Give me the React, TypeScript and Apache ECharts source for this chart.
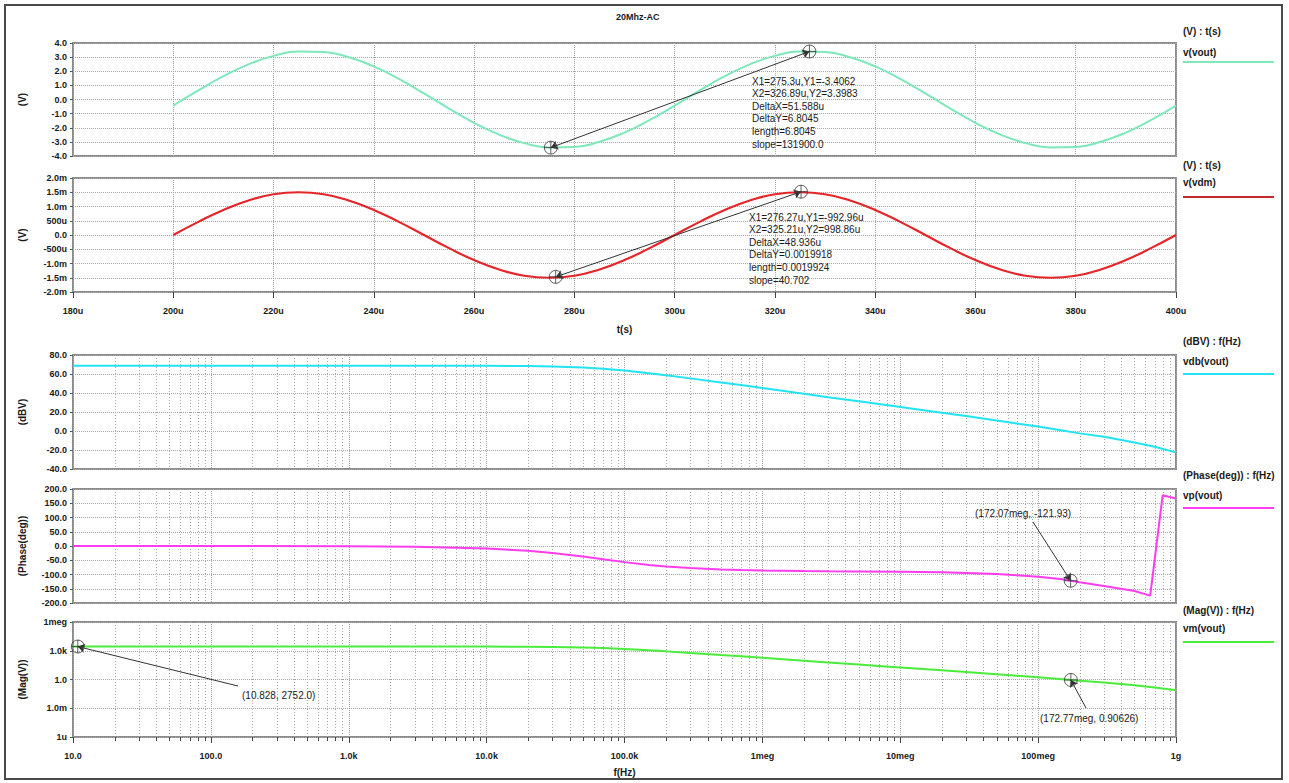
import React, { useEffect, useRef } from "react";
import * as echarts from "echarts";

// ---------- data ----------
const timeMicro = [
  200, 205, 210, 215, 220, 225, 230, 235, 240, 245, 250, 255, 260, 265, 270, 275, 280, 285, 290, 295,
  300, 305, 310, 315, 320, 325, 330, 335, 340, 345, 350, 355, 360, 365, 370, 375, 380, 385, 390, 395, 400,
];
const voutVolts = [
  -0.43, 0.64, 1.65, 2.49, 3.09, 3.39, 3.36, 2.99, 2.34, 1.46, 0.43, -0.64, -1.65, -2.49, -3.09, -3.39,
  -3.36, -2.99, -2.34, -1.46, -0.43, 0.64, 1.65, 2.49, 3.09, 3.39, 3.36, 2.99, 2.34, 1.46, 0.43, -0.64,
  -1.65, -2.49, -3.09, -3.39, -3.36, -2.99, -2.34, -1.46, -0.43,
];
const vdmMilliVolts = [
  0.0, 0.46, 0.88, 1.21, 1.43, 1.5, 1.43, 1.21, 0.88, 0.46, 0.0, -0.46, -0.88, -1.21, -1.43, -1.5,
  -1.43, -1.21, -0.88, -0.46, 0.0, 0.46, 0.88, 1.21, 1.43, 1.5, 1.43, 1.21, 0.88, 0.46, 0.0, -0.46,
  -0.88, -1.21, -1.43, -1.5, -1.43, -1.21, -0.88, -0.46, 0.0,
];

const freqHz = [
  10, 100, 1e3, 1e4, 2e4, 3e4, 5e4, 7e4, 1e5, 1.5e5, 2e5, 3e5, 5e5, 7e5, 1e6, 2e6, 3e6, 5e6, 7e6, 1e7,
  2e7, 3e7, 5e7, 7e7, 1e8, 1.5e8, 2e8, 3e8, 5e8, 7e8, 1e9,
];
const vdbValues = [
  68.8, 68.8, 68.8, 68.7, 68.4, 68.0, 66.9, 65.5, 63.6, 60.9, 58.7, 55.4, 51.1, 48.3, 45.2, 39.2, 35.6,
  31.2, 28.3, 25.2, 19.2, 15.7, 11.1, 8.0, 4.7, 0.6, -2.5, -6.0, -12.0, -16.5, -22.5,
];
const vmValues = [
  2752, 2752, 2750, 2720, 2630, 2510, 2210, 1880, 1510, 1110, 861, 589, 359, 260, 182, 91.2, 60.3, 36.3,
  26.0, 18.2, 9.12, 6.1, 3.59, 2.51, 1.72, 1.07, 0.75, 0.5, 0.25, 0.15, 0.075,
];
const phaseFreqHz = [
  10, 100, 1e3, 3e3, 1e4, 2e4, 3e4, 5e4, 7e4, 1e5, 1.5e5, 2e5, 3e5, 5e5, 7e5, 1e6, 2e6, 3e6, 5e6, 1e7,
  2e7, 3e7, 5e7, 7e7, 1e8, 1.5e8, 2e8, 3e8, 5e8, 6.5e8, 8e8, 1e9,
];
const vpDegrees = [
  0, 0, -0.9, -2.6, -8.6, -16.9, -24.4, -37.1, -46.7, -56.6, -66.3, -71.7, -77.6, -82.5, -84.6, -86.2,
  -88.1, -89.0, -89.6, -90.5, -92.5, -94.5, -98.5, -102.5, -108.0, -116.5, -127.0, -140.0, -158.0,
  -174.0, 178.0, 167.0,
];

// cursors
const voutCursors = [
  [275.3, -3.4062],
  [326.89, 3.3983],
];
const vdmCursors = [
  [276.27, -1.47],
  [325.21, 1.52],
];
const vpCursor = [172.07e6, -121.93];
const vmCursors = [
  [10.828, 2752.0],
  [172.77e6, 0.90626],
];

const voutNotes = [
  "X1=275.3u,Y1=-3.4062",
  "X2=326.89u,Y2=3.3983",
  "DeltaX=51.588u",
  "DeltaY=6.8045",
  "length=6.8045",
  "slope=131900.0",
];
const vdmNotes = [
  "X1=276.27u,Y1=-992.96u",
  "X2=325.21u,Y2=998.86u",
  "DeltaX=48.936u",
  "DeltaY=0.0019918",
  "length=0.0019924",
  "slope=40.702",
];
const vpNote = "(172.07meg, -121.93)";
const vmNotes = ["(10.828, 2752.0)", "(172.77meg, 0.90626)"];

const seriesNames = ["v(vout)", "v(vdm)", "vdb(vout)", "vp(vout)", "vm(vout)"];
const axisUnits = ["(V) : t(s)", "(V) : t(s)", "(dBV) : f(Hz)", "(Phase(deg)) : f(Hz)", "(Mag(V)) : f(Hz)"];
const yNames = ["(V)", "(V)", "(dBV)", "(Phase(deg))", "(Mag(V))"];
const freqTickLabels = ["10.0", "100.0", "1.0k", "10.0k", "100.0k", "1meg", "10meg", "100meg", "1g"];
const magTickLabels: Record<string, string> = { "-6": "1u", "-3": "1.0m", "0": "1.0", "3": "1.0k", "6": "1meg" };
const minorMultipliers = [2, 3, 4, 5, 6, 7, 8, 9];
const decades = [10, 100, 1e3, 1e4, 1e5, 1e6, 1e7, 1e8];

// ---------- styling ----------
const FONT = "Liberation Sans, Arial, sans-serif";
const TXT = "#1a1a1a";
const colors = ["#7fe8bb", "#e52528", "#22e3f2", "#ff3cef", "#4aec3c"];
const legendColors = ["#7fe8bb", "#c1272d", "#22e3f2", "#ff3cef", "#4aec3c"];

const minorFreqs: number[] = [];
decades.forEach((d) => minorMultipliers.forEach((m) => minorFreqs.push(m * d)));

const gridLine = { show: true, lineStyle: { color: "#a6a6a6", type: "dotted" as const, width: 1 } };
const labelStyle = { fontFamily: FONT, fontSize: 9, fontWeight: "bold" as const, color: TXT };

function fmtMilli(v: number) {
  const r = Math.round(v * 10) / 10;
  if (r === 0) return "0.0";
  if (Math.abs(r) < 1) return `${Math.round(r * 1000)}u`;
  return `${r.toFixed(1)}m`;
}

function makeYAxis(i: number, extra: any) {
  return {
    gridIndex: i,
    name: yNames[i],
    nameLocation: "middle",
    nameGap: 46,
    nameTextStyle: { ...labelStyle, fontSize: 10 },
    axisLine: { show: false, onZero: false },
    axisTick: { show: true, length: 3, lineStyle: { color: "#555" } },
    axisLabel: { ...labelStyle, margin: 6 },
    splitLine: gridLine,
    ...extra,
  };
}

function timeXAxis(i: number, showLabels: boolean) {
  return {
    gridIndex: i,
    type: "value",
    min: 180,
    max: 400,
    interval: 20,
    axisLine: { show: false, onZero: false },
    axisTick: { show: showLabels, length: 6, lineStyle: { color: "#444" } },
    axisLabel: { show: showLabels, ...labelStyle, margin: 14, formatter: (v: number) => `${v}u` },
    splitLine: gridLine,
    name: showLabels ? "t(s)" : "",
    nameLocation: "middle",
    nameGap: 32,
    nameTextStyle: { ...labelStyle, fontSize: 10 },
  };
}

function freqXAxis(i: number, showLabels: boolean) {
  return {
    gridIndex: i,
    type: "log",
    logBase: 10,
    min: 10,
    max: 1e9,
    splitNumber: 8,
    axisLine: { show: false, onZero: false },
    axisTick: { show: showLabels, length: 6, lineStyle: { color: "#444" } },
    axisLabel: {
      show: showLabels,
      ...labelStyle,
      margin: 14,
      formatter: (v: number) => freqTickLabels[Math.round(Math.log10(v)) - 1] ?? "",
    },
    splitLine: gridLine,
    name: showLabels ? "f(Hz)" : "",
    nameLocation: "middle",
    nameGap: 30,
    nameTextStyle: { ...labelStyle, fontSize: 10 },
  };
}

function minorGridSeries(i: number, yRef: number, withTicks: boolean) {
  return {
    type: "custom",
    xAxisIndex: i,
    yAxisIndex: i,
    silent: true,
    clip: false,
    z: 1,
    data: minorFreqs.map((f) => [f, yRef]),
    renderItem: (params: any, api: any) => {
      const cs = params.coordSys;
      const x = Math.round(api.coord([api.value(0), api.value(1)])[0]) + 0.5;
      const children: any[] = [
        {
          type: "line",
          shape: { x1: x, y1: cs.y, x2: x, y2: cs.y + cs.height },
          style: { stroke: "#a6a6a6", lineWidth: 1, lineDash: [1, 2] },
        },
      ];
      if (withTicks) {
        children.push({
          type: "line",
          shape: { x1: x, y1: cs.y + cs.height, x2: x, y2: cs.y + cs.height + 4 },
          style: { stroke: "#444", lineWidth: 1 },
        });
      }
      return { type: "group", children };
    },
  };
}

const cursorSymbol = "path://M7,0A7,7,0,1,1,-7,0A7,7,0,1,1,7,0ZM-7,0L7,0M0,-7L0,7";

function cursorSeries(i: number, pts: number[][]) {
  return {
    type: "scatter",
    xAxisIndex: i,
    yAxisIndex: i,
    data: pts,
    symbol: cursorSymbol,
    symbolSize: 13,
    z: 10,
    silent: true,
    itemStyle: { color: "rgba(0,0,0,0)", borderColor: "#3a3a3a", borderWidth: 1 },
  };
}

function arrowSeries(i: number, lines: any[], symbols: string[]) {
  return {
    type: "line",
    xAxisIndex: i,
    yAxisIndex: i,
    data: [],
    silent: true,
    z: 9,
    markLine: {
      silent: true,
      symbol: symbols,
      symbolSize: 7,
      label: { show: false },
      lineStyle: { color: "#333", width: 1, type: "solid" },
      data: lines,
    },
  };
}

function notesGraphic(lines: string[], x: number, y0: number, step: number) {
  return lines.map((t, k) => ({
    type: "text",
    left: x,
    top: y0 + k * step,
    style: { text: t, fontFamily: FONT, fontSize: 10, fill: TXT },
    z: 20,
  }));
}

const legendTops = [
  [26, 47, 62],
  [160, 177, 197],
  [336, 356, 374],
  [470, 490, 508],
  [605, 623, 642],
];

function legendGraphic() {
  const out: any[] = [];
  legendTops.forEach(([h, n, l], i) => {
    out.push({
      type: "text",
      left: 1183,
      top: h,
      style: { text: axisUnits[i], fontFamily: FONT, fontSize: 10, fontWeight: "bold", fill: TXT },
    });
    out.push({
      type: "text",
      left: 1183,
      top: n,
      style: { text: seriesNames[i], fontFamily: FONT, fontSize: 10, fontWeight: "bold", fill: TXT },
    });
    out.push({
      type: "line",
      shape: { x1: 1183, y1: l, x2: 1274, y2: l },
      style: { stroke: legendColors[i], lineWidth: 2 },
    });
  });
  return out;
}

export default function App() {
  const ref = useRef<HTMLDivElement>(null);

  useEffect(() => {
    if (!ref.current) return;
    const chart = echarts.init(ref.current, undefined, { renderer: "svg" });

    const grids = [
      { top: 43, height: 113 },
      { top: 178, height: 114 },
      { top: 355, height: 114 },
      { top: 489, height: 114 },
      { top: 622, height: 115 },
    ].map((g) => ({
      ...g,
      left: 73,
      right: 113,
      show: true,
      borderColor: "#8c8c8c",
      borderWidth: 2,
      backgroundColor: "#ffffff",
    }));

    const option: any = {
      animation: false,
      backgroundColor: "#ffffff",
      textStyle: { fontFamily: FONT },
      grid: grids,
      xAxis: [timeXAxis(0, false), timeXAxis(1, true), freqXAxis(2, false), freqXAxis(3, false), freqXAxis(4, true)],
      yAxis: [
        makeYAxis(0, {
          type: "value",
          min: -4,
          max: 4,
          interval: 1,
          axisLabel: { ...labelStyle, margin: 6, formatter: (v: number) => v.toFixed(1) },
        }),
        makeYAxis(1, {
          type: "value",
          min: -2,
          max: 2,
          interval: 0.5,
          axisLabel: { ...labelStyle, margin: 6, formatter: fmtMilli },
        }),
        makeYAxis(2, {
          type: "value",
          min: -40,
          max: 80,
          interval: 20,
          axisLabel: { ...labelStyle, margin: 6, formatter: (v: number) => v.toFixed(1) },
        }),
        makeYAxis(3, {
          type: "value",
          min: -200,
          max: 200,
          interval: 50,
          axisLabel: { ...labelStyle, margin: 6, formatter: (v: number) => v.toFixed(1) },
        }),
        makeYAxis(4, {
          type: "log",
          logBase: 1000,
          min: 1e-6,
          max: 1e6,
          splitNumber: 4,
          axisLabel: {
            ...labelStyle,
            margin: 6,
            formatter: (v: number) => magTickLabels[String(Math.round(Math.log10(v)))] ?? "",
          },
        }),
      ],
      series: [
        minorGridSeries(2, 0, false),
        minorGridSeries(3, 0, false),
        minorGridSeries(4, 1, true),
        {
          name: seriesNames[0],
          type: "line",
          xAxisIndex: 0,
          yAxisIndex: 0,
          data: timeMicro.map((t, k) => [t, voutVolts[k]]),
          smooth: true,
          showSymbol: false,
          lineStyle: { color: colors[0], width: 2 },
          z: 3,
        },
        {
          name: seriesNames[1],
          type: "line",
          xAxisIndex: 1,
          yAxisIndex: 1,
          data: timeMicro.map((t, k) => [t, vdmMilliVolts[k]]),
          smooth: true,
          showSymbol: false,
          lineStyle: { color: colors[1], width: 2.2 },
          z: 3,
        },
        {
          name: seriesNames[2],
          type: "line",
          xAxisIndex: 2,
          yAxisIndex: 2,
          data: freqHz.map((f, k) => [f, vdbValues[k]]),
          showSymbol: false,
          lineStyle: { color: colors[2], width: 2 },
          z: 3,
        },
        {
          name: seriesNames[3],
          type: "line",
          xAxisIndex: 3,
          yAxisIndex: 3,
          data: phaseFreqHz.map((f, k) => [f, vpDegrees[k]]),
          showSymbol: false,
          lineStyle: { color: colors[3], width: 2 },
          z: 3,
        },
        {
          name: seriesNames[4],
          type: "line",
          xAxisIndex: 4,
          yAxisIndex: 4,
          data: freqHz.map((f, k) => [f, vmValues[k]]),
          showSymbol: false,
          lineStyle: { color: colors[4], width: 2 },
          z: 3,
        },
        arrowSeries(0, [[{ coord: voutCursors[0] }, { coord: voutCursors[1] }]], ["arrow", "arrow"]),
        arrowSeries(1, [[{ coord: vdmCursors[0] }, { coord: vdmCursors[1] }]], ["arrow", "arrow"]),
        arrowSeries(3, [[{ x: 1033, y: 522 }, { coord: vpCursor }]], ["none", "arrow"]),
        arrowSeries(
          4,
          [
            [{ x: 238, y: 686 }, { coord: vmCursors[0] }],
            [{ x: 1086, y: 708 }, { coord: vmCursors[1] }],
          ],
          ["none", "arrow"]
        ),
        cursorSeries(0, voutCursors),
        cursorSeries(1, vdmCursors),
        cursorSeries(3, [vpCursor]),
        cursorSeries(4, vmCursors),
      ],
      graphic: [
        {
          type: "rect",
          shape: { x: 5, y: 5, width: 1277, height: 774 },
          style: { fill: "none", stroke: "#4a4a4a", lineWidth: 2 },
          z: 0,
        },
        {
          type: "text",
          left: 616,
          top: 12,
          style: { text: "20Mhz-AC", fontFamily: FONT, fontSize: 9, fontWeight: "bold", fill: TXT },
        },
        ...legendGraphic(),
        ...notesGraphic(voutNotes, 752, 76, 12.6),
        ...notesGraphic(vdmNotes, 749, 212, 12.6),
        {
          type: "text",
          left: 975,
          top: 508,
          style: { text: vpNote, fontFamily: FONT, fontSize: 10, fill: TXT },
          z: 20,
        },
        {
          type: "text",
          left: 242,
          top: 690,
          style: { text: vmNotes[0], fontFamily: FONT, fontSize: 10, fill: TXT },
          z: 20,
        },
        {
          type: "text",
          left: 1040,
          top: 713,
          style: { text: vmNotes[1], fontFamily: FONT, fontSize: 10, fill: TXT },
          z: 20,
        },
      ],
    };

    chart.setOption(option);
    return () => chart.dispose();
  }, []);

  return (
    <div
      ref={ref}
      style={{ position: "fixed", left: 0, top: 0, width: 1289, height: 783, background: "#fff" }}
    />
  );
}
